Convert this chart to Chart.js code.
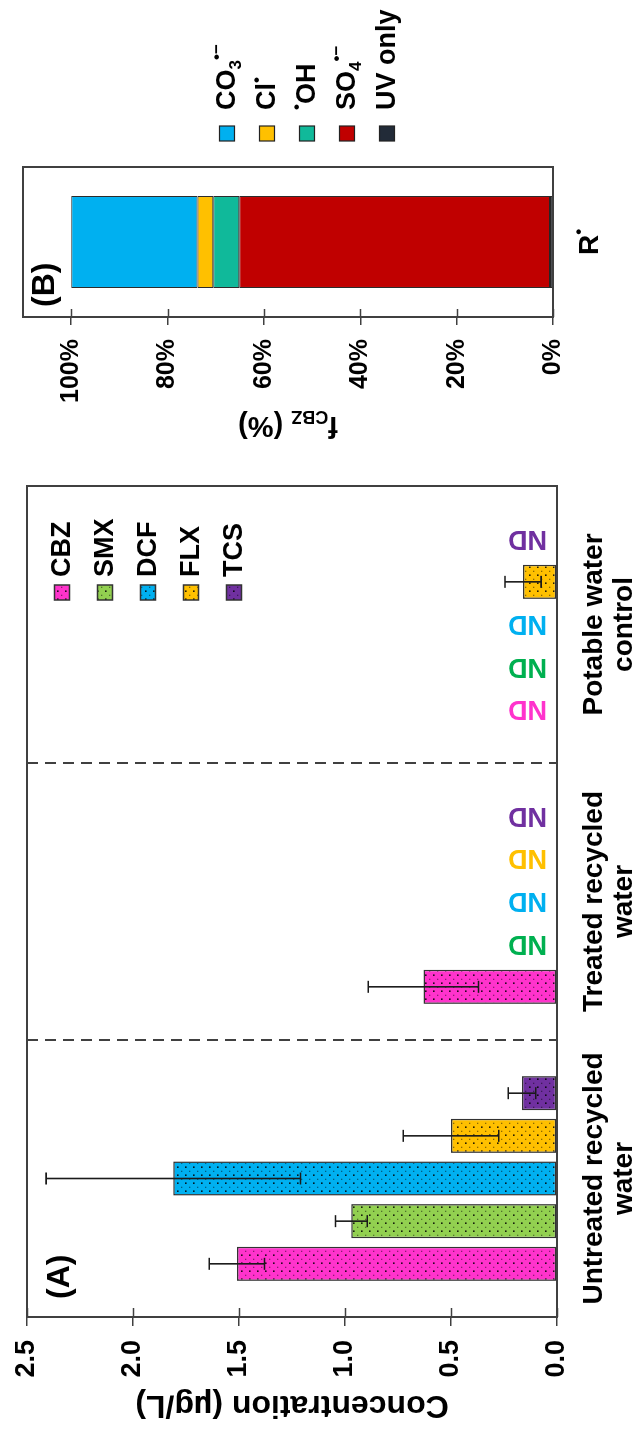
<!DOCTYPE html>
<html><head><meta charset="utf-8">
<script src="https://cdn.jsdelivr.net/npm/chart.js@4/dist/chart.umd.min.js"></script>
<style>
html,body{margin:0;padding:0;background:#fff;overflow:hidden;width:641px;height:1433px;}
#rot{position:absolute;left:0;top:0;width:1433px;height:641px;transform-origin:0 0;transform:translateY(1433px) rotate(-90deg);background:#fff;}
#ca{position:absolute;left:0;top:0;width:960px;height:641px;}
#cb{position:absolute;left:960px;top:0;width:473px;height:641px;}
</style></head><body>
<div id="rot"><canvas id="ca" width="960" height="641"></canvas><canvas id="cb" width="473" height="641"></canvas></div>
<script>
// ---------- Panel A data ----------
const waterTypes = [['Untreated recycled','water'], ['Treated recycled','water'], ['Potable water','control']];
const compounds = ['CBZ','SMX','DCF','FLX','TCS'];
const cbzConc = [1.51, 0.63, null];
const smxConc = [0.97, null, null];
const dcfConc = [1.81, null, null];
const flxConc = [0.50, null, 0.16];
const tcsConc = [0.165, null, null];
const cbzErr = [0.13, 0.26, 0];
const smxErr = [0.075, 0, 0];
const dcfErr = [0.60, 0, 0];
const flxErr = [0.225, 0, 0.085];
const tcsErr = [0.065, 0, 0];
const concTicks = [0, 0.5, 1.0, 1.5, 2.0, 2.5];
const ndLabel = 'ND';

// ---------- Panel B data ----------
const radicalCats = ['R'];
const uvOnlyFrac = [0.6];
const so4Frac = [64.5];
const ohFrac = [5.4];
const clFrac = [3.3];
const co3Frac = [26.2];
const fracTicks = [0, 20, 40, 60, 80, 100];

const FONT = "'Liberation Sans', Arial, Helvetica, sans-serif";
Chart.defaults.font.family = FONT;
Chart.defaults.color = '#000';

const compColors = ['#FF33CC', '#92D050', '#00B0F0', '#FFC000', '#7030A0'];
const ndColors = ['#FF33CC', '#00B050', '#00B0F0', '#FFC000', '#7030A0'];
const concSeries = [cbzConc, smxConc, dcfConc, flxConc, tcsConc];
const errSeries = [cbzErr, smxErr, dcfErr, flxErr, tcsErr];

function dots(color){
  const c = document.createElement('canvas'); c.width = 8; c.height = 8;
  const x = c.getContext('2d');
  x.fillStyle = color; x.fillRect(0,0,8,8);
  x.fillStyle = 'rgba(0,0,0,0.85)'; x.fillRect(1,1,1.6,1.6);
  x.fillStyle = 'rgba(0,0,0,0.45)'; x.fillRect(5,5,1.3,1.3);
  return x.createPattern(c, 'repeat');
}

function drawRich(ctx, segs, x, y, size){
  // segs: [text, kind] kind: 0 normal, 1 subscript, 2 superscript
  let cx = x;
  segs.forEach(([t,k])=>{
    const s = k ? Math.round(size*0.62) : size;
    ctx.font = 'bold ' + s + 'px ' + FONT;
    const dy = k===1 ? size*0.3 : (k===2 ? -size*0.38 : 0);
    ctx.fillText(t, cx, y+dy);
    cx += ctx.measureText(t).width;
  });
  return cx - x;
}
function richWidth(ctx, segs, size){
  let w = 0;
  segs.forEach(([t,k])=>{
    const s = k ? Math.round(size*0.62) : size;
    ctx.font = 'bold ' + s + 'px ' + FONT;
    w += ctx.measureText(t).width;
  });
  return w;
}

function innerTicks(ctx, chart, ticks, len){
  const ys = chart.scales.y, a = chart.chartArea;
  ctx.save(); ctx.strokeStyle = '#404040'; ctx.lineWidth = 1.5;
  ticks.forEach(v=>{
    const py = Math.round(ys.getPixelForValue(v)) + 0.5;
    ctx.beginPath(); ctx.moveTo(a.left, py); ctx.lineTo(a.left+len, py); ctx.stroke();
  });
  ctx.restore();
}
function box(ctx, a){
  ctx.save(); ctx.strokeStyle = '#404040'; ctx.lineWidth = 2;
  ctx.strokeRect(a.left, a.top, a.right-a.left, a.bottom-a.top);
  ctx.restore();
}
function noPadY(s, w){ s.width = w; s.paddingTop = 0; s.paddingBottom = 0; }
function noPadX(s, h){ s.height = h; s.paddingLeft = 0; s.paddingRight = 0; }

// ---------- Chart A ----------
const dsA = compounds.map((name,i)=>({
  label: name, data: concSeries[i], errors: errSeries[i],
  backgroundColor: dots(compColors[i]), borderColor: '#333', borderWidth: 1.5, borderSkipped: false,
  barPercentage: 0.8, categoryPercentage: 0.77
}));

const pluginA = {
  id: 'pA',
  afterDatasetsDraw(chart){
    const ctx = chart.ctx, ys = chart.scales.y;
    ctx.save(); ctx.strokeStyle = '#1a1a1a'; ctx.lineWidth = 1.6;
    chart.data.datasets.forEach((ds,i)=>{
      const meta = chart.getDatasetMeta(i);
      ds.data.forEach((v,j)=>{
        const e = ds.errors[j];
        if (v == null || !e) return;
        const x = meta.data[j].x, y1 = ys.getPixelForValue(v+e), y2 = ys.getPixelForValue(v-e);
        ctx.beginPath(); ctx.moveTo(x,y1); ctx.lineTo(x,y2);
        ctx.moveTo(x-6,y1); ctx.lineTo(x+6,y1); ctx.moveTo(x-6,y2); ctx.lineTo(x+6,y2);
        ctx.stroke();
      });
    });
    ctx.restore();
  },
  afterDraw(chart){
    const ctx = chart.ctx, a = chart.chartArea, xs = chart.scales.x;
    // dashed separators
    ctx.save(); ctx.strokeStyle = '#404040'; ctx.lineWidth = 2; ctx.setLineDash([11,7]);
    for (let j=0;j<waterTypes.length-1;j++){
      const px = (xs.getPixelForValue(j)+xs.getPixelForValue(j+1))/2;
      ctx.beginPath(); ctx.moveTo(px, a.top); ctx.lineTo(px, a.bottom); ctx.stroke();
    }
    ctx.restore();
    innerTicks(ctx, chart, concTicks, 9);
    box(ctx, a);
    // ND labels
    ctx.save();
    ctx.font = 'bold 27px ' + FONT; ctx.textAlign = 'left'; ctx.textBaseline = 'middle';
    chart.data.datasets.forEach((ds,i)=>{
      const meta = chart.getDatasetMeta(i);
      ds.data.forEach((v,j)=>{
        if (v != null) return;
        const x = meta.data[j].x;
        ctx.save(); ctx.translate(x, a.bottom-10); ctx.rotate(-Math.PI/2);
        ctx.fillStyle = ndColors[i]; ctx.fillText(ndLabel, 0, 1);
        ctx.restore();
      });
    });
    ctx.restore();
    // legend
    ctx.save();
    chart.data.datasets.forEach((ds,i)=>{
      const cy = 62 + i*43;
      ctx.fillStyle = ds.backgroundColor; ctx.fillRect(833, cy-7.5, 15, 15);
      ctx.strokeStyle = '#333'; ctx.lineWidth = 1.5; ctx.strokeRect(833, cy-7.5, 15, 15);
      ctx.fillStyle = '#000'; ctx.font = 'bold 27px ' + FONT; ctx.textAlign='left'; ctx.textBaseline='middle';
      ctx.fillText(ds.label, 856, cy+1);
    });
    ctx.font = 'bold 32px ' + FONT; ctx.textBaseline = 'middle'; ctx.fillStyle = '#000';
    ctx.fillText('(A)', 134, 60);
    ctx.restore();
  }
};

new Chart(document.getElementById('ca'), {
  type: 'bar',
  data: { labels: waterTypes, datasets: dsA },
  options: {
    responsive: false, animation: false,
    layout: { padding: { top: 27, right: 13, left: 0, bottom: 0 } },
    plugins: { legend: { display: false }, tooltip: { enabled: false } },
    scales: {
      x: {
        grid: { display: false, drawTicks: false }, border: { display: false },
        ticks: { font: { size: 28, weight: 'bold', lineHeight: 1.07 }, padding: 22, maxRotation: 0, autoSkip: false, color: '#000' },
        afterFit(s){ noPadX(s, 84); }
      },
      y: {
        min: 0, max: 2.5,
        afterBuildTicks(s){ s.ticks = concTicks.map(v=>({value:v})); },
        ticks: { callback: v => Number(v).toFixed(1), font: { size: 27, weight: 'bold' }, padding: 14, color: '#000' },
        grid: { drawOnChartArea: false, tickLength: 9, color: '#404040', lineWidth: 1.5 },
        border: { display: false },
        title: { display: true, text: 'Concentration (µg/L)', font: { size: 32, weight: 'bold', lineHeight: 1 }, padding: { top: 12, bottom: 0 }, color: '#000' },
        afterFit(s){ noPadY(s, 116); }
      }
    }
  },
  plugins: [pluginA]
});

// ---------- Chart B ----------
const radicalNames = [
  { key: 'uv', segs: [['UV only',0]], color: '#222B38', data: uvOnlyFrac },
  { key: 'so4', segs: [['SO',0],['4',1],['•−',2]], color: '#C00000', data: so4Frac },
  { key: 'oh', segs: [['•',2],['OH',0]], color: '#10B99A', data: ohFrac },
  { key: 'cl', segs: [['Cl',0],['•',2]], color: '#FFC000', data: clFrac },
  { key: 'co3', segs: [['CO',0],['3',1],['•−',2]], color: '#00B0F0', data: co3Frac }
];
const dsB = radicalNames.map(r=>({
  label: r.segs.map(s=>s[0]).join(''), data: r.data, segs: r.segs,
  backgroundColor: r.color, borderColor: '#262626', borderWidth: 1, borderSkipped: false,
  barPercentage: 0.613, categoryPercentage: 1
}));

const pluginB = {
  id: 'pB',
  afterDraw(chart){
    const ctx = chart.ctx, a = chart.chartArea, xs = chart.scales.x;
    innerTicks(ctx, chart, fracTicks, 8);
    box(ctx, a);
    ctx.save();
    ctx.fillStyle = '#000'; ctx.textBaseline = 'middle'; ctx.textAlign = 'left';
    // panel label
    ctx.font = 'bold 32px ' + FONT; ctx.fillText('(B)', 166, 45);
    // category label R•
    const cx = xs.getPixelForValue(0);
    const rSegs = [[radicalCats[0],0],['•',2]];
    const rw = richWidth(ctx, rSegs, 28);
    drawRich(ctx, rSegs, cx - rw/2, 590, 28);
    // legend: CO3 first from top
    const order = ['co3','cl','oh','so4','uv'];
    order.forEach((k,i)=>{
      const ds = chart.data.datasets[radicalNames.findIndex(r=>r.key===k)];
      const cy = 227 + i*40;
      ctx.fillStyle = ds.backgroundColor; ctx.fillRect(332, cy-7.5, 15, 15);
      ctx.strokeStyle = '#222'; ctx.lineWidth = 1.2; ctx.strokeRect(332, cy-7.5, 15, 15);
      ctx.fillStyle = '#000';
      drawRich(ctx, ds.segs, 363, cy+1, 27);
    });
    // axis title f_CBZ (%)
    const tSegs = [['f',0],['CBZ',1],[' (%)',0]];
    const tw = richWidth(ctx, tSegs, 29);
    ctx.save(); ctx.translate(48, (a.top+a.bottom)/2); ctx.rotate(-Math.PI/2);
    drawRich(ctx, tSegs, -tw/2, 0, 29);
    ctx.restore();
    ctx.restore();
  }
};

new Chart(document.getElementById('cb'), {
  type: 'bar',
  data: { labels: radicalCats, datasets: dsB },
  options: {
    responsive: false, animation: false,
    layout: { padding: { top: 23, right: 167, left: 0, bottom: 0 } },
    plugins: { legend: { display: false }, tooltip: { enabled: false } },
    scales: {
      x: {
        stacked: true,
        grid: { display: false, drawTicks: false }, border: { display: false },
        ticks: { display: false },
        afterFit(s){ noPadX(s, 88); }
      },
      y: {
        stacked: true, min: 0, max: 110,
        afterBuildTicks(s){ s.ticks = fracTicks.map(v=>({value:v})); },
        ticks: { callback: v => v + '%', font: { size: 25, weight: 'bold' }, padding: 14, color: '#000' },
        grid: { drawOnChartArea: false, tickLength: 8, color: '#404040', lineWidth: 1.5 },
        border: { display: false },
        afterFit(s){ noPadY(s, 156); }
      }
    }
  },
  plugins: [pluginB]
});
</script>
</body></html>
